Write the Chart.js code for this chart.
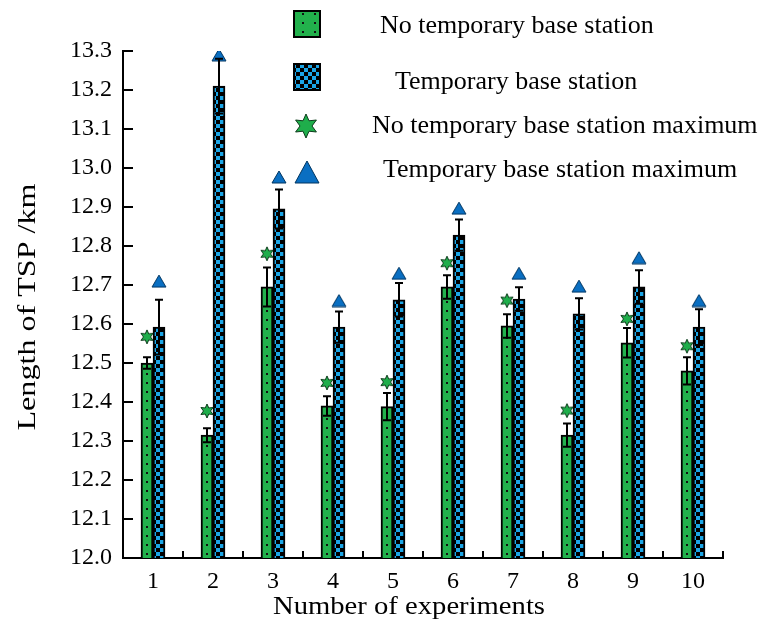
<!DOCTYPE html>
<html>
<head>
<meta charset="utf-8">
<script src="https://cdn.jsdelivr.net/npm/chart.js@4.4.0/dist/chart.umd.min.js"></script>
<style>
  html,body{margin:0;padding:0;background:#fff}
  #wrap{width:769px;height:631px}
</style>
</head>
<body>
<div id="wrap"><canvas id="c" width="769" height="631"></canvas></div>
<script>
const experiments = ['1','2','3','4','5','6','7','8','9','10']
const noTempMean = [12.50, 12.315, 12.695, 12.39, 12.388, 12.695, 12.595, 12.315, 12.552, 12.48]
const noTempErr  = [0.015, 0.018, 0.05, 0.025, 0.035, 0.03, 0.03, 0.03, 0.038, 0.035]
const noTempMax  = [12.567, 12.377, 12.78, 12.449, 12.451, 12.756, 12.66, 12.378, 12.613, 12.543]
const tempMean   = [12.592, 13.21, 12.895, 12.592, 12.662, 12.828, 12.664, 12.626, 12.695, 12.592]
const tempErr    = [0.07, 0.07, 0.05, 0.04, 0.043, 0.04, 0.03, 0.04, 0.043, 0.046]
const tempMax    = [12.71, 13.29, 12.977, 12.66, 12.73, 12.897, 12.73, 12.697, 12.77, 12.66]
const yMin = 12.0, yMax = 13.3, yStep = 0.1
const shift = 0.1   // green sits left of the category centre, blue right

const FONT = "'Liberation Serif', 'Times New Roman', serif"
const GREEN = '#22b14c', CYAN = '#1ba6e8', TRI = '#0a6fc2'

// fills
function mk(w,h,fn){ const c=document.createElement('canvas'); c.width=w; c.height=h; fn(c.getContext('2d')); return c }
const greenTile = mk(12,9,g=>{ g.fillStyle=GREEN; g.fillRect(0,0,12,9); g.fillStyle='#111'; g.fillRect(2,4,2,2) })
const blueTile = mk(8,8,g=>{ g.fillStyle=CYAN; g.fillRect(0,0,8,8); g.fillStyle='#000'; g.fillRect(0,0,4,4); g.fillRect(4,4,4,4) })
const ctx = document.getElementById('c').getContext('2d')
const greenPat = ctx.createPattern(greenTile,'repeat')
const bluePat = ctx.createPattern(blueTile,'repeat')

function starImg(size){
  return mk(size,size,g=>{
    const c=size/2, ro=size/2-1, ri=ro*0.5
    g.beginPath()
    for(let i=0;i<12;i++){
      const r = i%2 ? ri : ro, a = -Math.PI/2 + i*Math.PI/6
      g.lineTo(c+r*Math.cos(a), c+r*Math.sin(a))
    }
    g.closePath(); g.fillStyle='#1fae4b'; g.fill(); g.strokeStyle='#0d3b1b'; g.lineWidth=1; g.stroke()
  })
}
function triImg(w,h){
  return mk(w,h,g=>{
    g.beginPath(); g.moveTo(w/2,1); g.lineTo(w-1,h-1); g.lineTo(1,h-1); g.closePath()
    g.fillStyle=TRI; g.fill(); g.strokeStyle='#003560'; g.lineWidth=1; g.stroke()
  })
}
const starSmall = starImg(16), triSmall = triImg(16,14)
const starBig = starImg(26), triBig = triImg(26,24)

const errs = [noTempErr, tempErr]

// text squeezed/stretched to a given length
function fitText(c, txt, x, y, len, rot){
  c.save()
  c.translate(x,y); if(rot) c.rotate(rot)
  const w = c.measureText(txt).width
  c.scale(len/w,1)
  c.textAlign='center'; c.textBaseline='middle'
  c.fillText(txt,0,0)
  c.restore()
}

const decor = {
  id:'decor',
  afterDatasetsDraw(chart){
    const c = chart.ctx, ys = chart.scales.y, xm = chart.scales.xm
    c.save()
    c.strokeStyle='#000'; c.lineWidth=2
    ;[0,1].forEach(di=>{
      const meta = chart.getDatasetMeta(di)
      meta.data.forEach((bar,i)=>{
        const v = meta._parsed[i].y
        const x = Math.round(bar.x)
        const yt = ys.getPixelForValue(v+errs[di][i]), yb = ys.getPixelForValue(v-errs[di][i])
        c.beginPath(); c.moveTo(x,yt); c.lineTo(x,yb)
        c.moveTo(x-4,yt); c.lineTo(x+4,yt)
        c.moveTo(x-4,yb); c.lineTo(x+4,yb); c.stroke()
      })
    })
    // inward ticks
    const left = chart.chartArea.left, bottom = chart.chartArea.bottom
    ys.ticks.forEach(t=>{
      const y = Math.round(ys.getPixelForValue(t.value))
      c.beginPath(); c.moveTo(left,y); c.lineTo(left+10,y); c.stroke()
    })
    for(let i=0;i<experiments.length;i++){
      const x = Math.round(xm.getPixelForValue(i+1.5))
      c.beginPath(); c.moveTo(x,bottom); c.lineTo(x,bottom-7); c.stroke()
    }
    c.restore()
  },
  afterDraw(chart){
    const c = chart.ctx
    c.save()
    c.lineWidth=2; c.strokeStyle='#000'
    c.fillStyle=greenPat; c.fillRect(294,11,26,26); c.strokeRect(294,11,26,26)
    c.fillStyle=bluePat; c.fillRect(294,64,26,26); c.strokeRect(294,64,26,26)
    c.drawImage(starBig,293,113)
    c.drawImage(triBig,294,160)
    c.fillStyle='#000'; c.font='26px '+FONT; c.textBaseline='middle'
    c.fillText('No temporary base station',380,26)
    c.fillText('Temporary base station',395,82)
    c.fillText('No temporary base station maximum',372,126)
    c.fillText('Temporary base station maximum',383,170)
    // axis titles
    c.font='26px '+FONT
    fitText(c,'Number of experiments',409,607,272,0)
    fitText(c,'Length of TSP /km',28,307,247,-Math.PI/2)
    c.restore()
  }
}

new Chart(ctx,{
  data:{
    labels:experiments,
    datasets:[
      {type:'bar',label:'No temporary base station',xAxisID:'xm',data:noTempMean.map((v,i)=>({x:i+1-shift,y:v})),
        backgroundColor:greenPat,borderColor:'#000',borderWidth:2,grouped:false,barPercentage:1,categoryPercentage:1,maxBarThickness:12,order:2},
      {type:'bar',label:'Temporary base station',xAxisID:'xm',data:tempMean.map((v,i)=>({x:i+1+shift,y:v})),
        backgroundColor:bluePat,borderColor:'#000',borderWidth:2,grouped:false,barPercentage:1,categoryPercentage:1,maxBarThickness:12,order:2},
      {type:'line',label:'No temporary base station maximum',xAxisID:'xm',data:noTempMax.map((v,i)=>({x:i+1-shift,y:v})),showLine:false,pointStyle:starSmall,order:1},
      {type:'line',label:'Temporary base station maximum',xAxisID:'xm',data:tempMax.map((v,i)=>({x:i+1+shift,y:v})),showLine:false,pointStyle:triSmall,order:1}
    ]
  },
  options:{
    responsive:false, animation:false, devicePixelRatio:1,
    layout:{padding:{top:51,right:46,left:0,bottom:0}},
    plugins:{legend:{display:false},tooltip:{enabled:false}},
    scales:{
      x:{
        type:'category', offset:true,
        grid:{drawOnChartArea:false,drawTicks:false,offset:true},
        border:{display:true,color:'#000',width:2},
        ticks:{color:'#000',font:{family:FONT,size:24},padding:9},
        afterFit(s){ s.height=73 }
      },
      xm:{type:'linear',display:false,offset:false,bounds:'data',min:0.5,max:10.5,grid:{offset:false}},
      y:{
        min:yMin,max:yMax,
        grid:{drawOnChartArea:false,drawTicks:false},
        border:{display:true,color:'#000',width:2},
        ticks:{stepSize:yStep,color:'#000',font:{family:FONT,size:24},padding:11,callback:v=>v.toFixed(1)},
        afterFit(s){ s.width=123 }
      }
    }
  },
  plugins:[decor]
})
</script>
</body>
</html>
